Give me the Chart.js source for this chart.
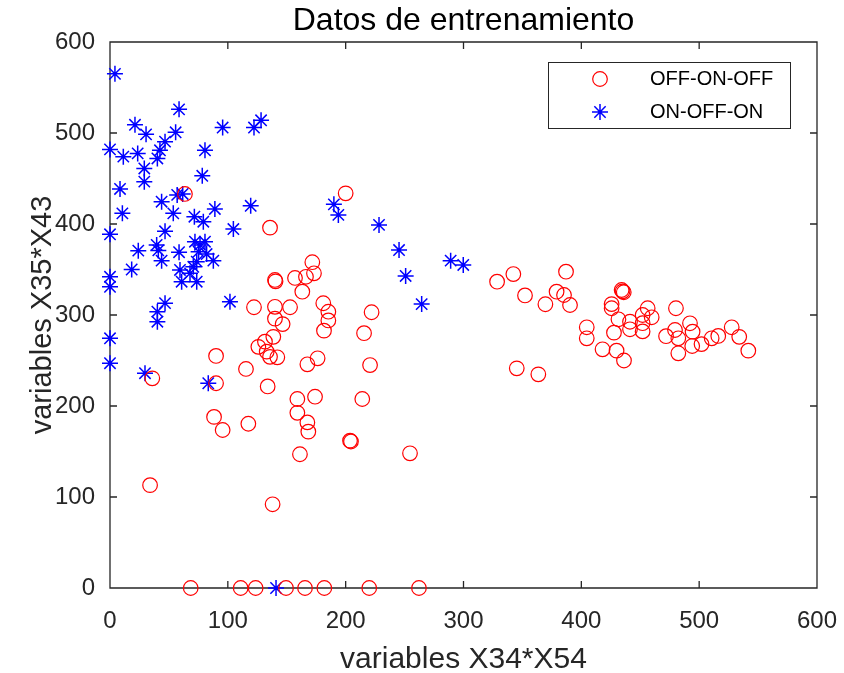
<!DOCTYPE html>
<html>
<head>
<meta charset="utf-8">
<title>Datos de entrenamiento</title>
<script src="https://cdn.jsdelivr.net/npm/chart.js@4/dist/chart.umd.min.js"></script>
<style>
  html, body { margin: 0; padding: 0; background: #ffffff; }
  #plot { display: block; }
</style>
</head>
<body>
<canvas id="plot" width="844" height="673"></canvas>
<script>
// Class OFF-ON-OFF (red circles)
const offOnOffX = [
  68.5, 110.9, 123.6, 149.4, 165.5, 181.9, 220, 262.2,
  34, 35.9, 63.6, 135.8, 138,
  90, 90, 88.3, 95.6, 115.4, 117.4, 122.2, 133.8,
  125.9, 131.5, 138.6, 133, 135.8, 142,
  140, 140.5, 140, 146.5, 140, 152.8, 157,
  159, 159, 161.2, 163.2, 166.3, 167.5, 167.5, 168.3, 171.7, 173.1, 174, 176.2, 181, 181.6, 185.3, 185.3,
  200, 203.7, 204.5, 214.1, 215.6, 222, 220.7, 254.6,
  328.5, 342.3, 352.2, 369.5, 387, 379, 385.3, 390.4, 404.6, 404.6, 418, 429.9, 436.2, 427.7,
  425.7, 425.7, 434.2, 435, 436, 431.5, 441.3, 441.3, 452, 456.3, 459.7, 452, 452,
  480.3, 471.9, 479.5, 482.3, 482.3, 492.2, 494.4, 494.1, 502, 510.6, 516.2, 527.6, 534, 541.7,
  345.2, 363.5
];
const offOnOffY = [
  0, 0, 0, 0, 0, 0, 0, 0,
  113, 230.4, 433, 396, 92,
  255, 225, 188, 173.6, 240.7, 180.5, 308.5, 221.5,
  265, 270.7, 276, 259.7, 254, 253.5,
  338.5, 337, 309, 290, 296, 308.5, 340.7,
  207.7, 192.5, 147, 325.6, 342, 245.8, 182, 171.8, 358, 345.8, 210.2, 252.4, 312.9, 282.8, 303.6, 294,
  433.7, 161.9, 161, 207.7, 280, 303, 245, 148,
  336.6, 345, 321.5, 311.8, 347.6, 325.6, 322, 311, 286.5, 274.4, 262.3, 260.8, 250, 280.6,
  312, 307.4, 327.5, 326, 325, 295.3, 292.6, 284.3, 300, 307.4, 297.5, 282, 291,
  307.4, 276.7, 283.5, 274.4, 257.9, 290.9, 281.7, 265.9, 268, 274.4, 277, 286.5, 276, 260.8,
  241.4, 234.8
];

// Class ON-OFF-ON (blue asterisks)
const onOffOnX = [
  4.2, 58.6, 21.2, 30.6, 55.7, 95.6, 122.2, 128.2,
  0, 11.3, 23.5, 46.7, 42.4, 40.2, 80.6, 29.1, 29.1, 78.3,
  8.5, 61.7, 57, 43.8, 119.4, 10.5, 53.7, 89, 71.6, 79.2, 104.7, 46.7, 0,
  24, 39.6, 41, 43.8, 58.6, 72.1, 76.4, 80.6, 75.2, 82, 87.7, 73.6, 70.7, 59.4, 60.8, 73.6, 67.9,
  18.4, 0, 0, 101.8, 46.7, 40.2, 40.2, 0, 0, 29.7, 83.4, 140.9,
  190, 193.8, 228.3, 245.3, 250.9, 264.5, 289.1, 299.8
];
const onOffOnY = [
  565, 526, 509, 498.5, 500.8, 506, 506, 514,
  482, 474, 477.6, 490.5, 481, 472, 481, 461, 446.5, 453,
  438.5, 433, 432, 424.5, 420, 411.7, 411.7, 416.5, 408, 402.5, 394.5, 392, 388.7,
  370.7, 377, 371, 359.7, 369, 380.5, 377, 380.5, 369.6, 367, 359.7, 358.6, 353, 349.5, 336.6, 336.6, 345.8,
  350, 342, 331, 314.6, 313, 303.7, 292.6, 274.4, 247, 236, 225, 0,
  421.6, 410, 399, 371.4, 342.9, 312, 359.7, 355
];

const seriesNames = ['OFF-ON-OFF', 'ON-OFF-ON'];
const axisTicks = [0, 100, 200, 300, 400, 500, 600];
const chartTitle = 'Datos de entrenamiento';

const AXIS_COLOR = '#262626';
const FONT = '"Liberation Sans", Arial, Helvetica, sans-serif';
const TICK_LEN = 7;

const toPoints = (xs, ys) => xs.map((v, i) => ({ x: v, y: ys[i] }));

// Title centred over the plotting box, box with inward tick marks on all four sides, legend panel
const axisFrame = {
  id: 'axisFrame',
  beforeDatasetsDraw(chart) {
    const { ctx, chartArea: a, scales: { x, y } } = chart;
    ctx.save();
    ctx.fillStyle = '#000000';
    ctx.font = '32px ' + FONT;
    ctx.textAlign = 'center';
    ctx.textBaseline = 'middle';
    ctx.fillText(chartTitle, (a.left + a.right) / 2, 21);

    ctx.strokeStyle = AXIS_COLOR;
    ctx.lineWidth = 1.3;
    ctx.beginPath();
    ctx.rect(a.left, a.top, a.right - a.left, a.bottom - a.top);
    axisTicks.forEach(v => {
      const px = x.getPixelForValue(v);
      ctx.moveTo(px, a.bottom); ctx.lineTo(px, a.bottom - TICK_LEN);
      ctx.moveTo(px, a.top); ctx.lineTo(px, a.top + TICK_LEN);
      const py = y.getPixelForValue(v);
      ctx.moveTo(a.left, py); ctx.lineTo(a.left + TICK_LEN, py);
      ctx.moveTo(a.right, py); ctx.lineTo(a.right - TICK_LEN, py);
    });
    ctx.stroke();
    ctx.restore();
  },
  afterDatasetsDraw(chart) {
    const { ctx } = chart;
    const box = { left: 548, top: 62, width: 242, height: 66 };
    ctx.save();
    ctx.fillStyle = '#ffffff';
    ctx.fillRect(box.left, box.top, box.width, box.height);
    ctx.strokeStyle = AXIS_COLOR;
    ctx.lineWidth = 1;
    ctx.strokeRect(box.left + 0.5, box.top + 0.5, box.width, box.height);
    ctx.font = '20px ' + FONT;
    ctx.textBaseline = 'middle';
    ctx.textAlign = 'left';
    chart.data.datasets.forEach((ds, i) => {
      const cy = box.top + 17 + i * 33;
      ctx.strokeStyle = ds.borderColor;
      ctx.fillStyle = 'rgba(0,0,0,0)';
      ctx.lineWidth = ds.borderWidth;
      Chart.helpers.drawPoint(ctx, {
        pointStyle: ds.pointStyle, radius: ds.pointRadius, borderWidth: ds.borderWidth, rotation: 0
      }, box.left + 52, cy);
      ctx.fillStyle = '#000000';
      ctx.fillText(ds.label, box.left + 102, cy);
    });
    ctx.restore();
  }
};

new Chart(document.getElementById('plot'), {
  type: 'scatter',
  data: {
    datasets: [
      {
        label: seriesNames[0],
        data: toPoints(offOnOffX, offOnOffY),
        pointStyle: 'circle',
        pointRadius: 7.3,
        borderWidth: 1.2,
        borderColor: '#ff0000',
        backgroundColor: 'rgba(0,0,0,0)',
        clip: false
      },
      {
        label: seriesNames[1],
        data: toPoints(onOffOnX, onOffOnY),
        pointStyle: 'star',
        pointRadius: 8,
        borderWidth: 1.5,
        borderColor: '#0000ff',
        backgroundColor: 'rgba(0,0,0,0)',
        clip: false
      }
    ]
  },
  options: {
    responsive: false,
    animation: false,
    devicePixelRatio: 1,
    layout: { padding: { left: 0, right: 27, top: 42, bottom: 0 } },
    plugins: {
      legend: { display: false },
      tooltip: { enabled: false },
      title: { display: false }
    },
    scales: {
      x: {
        type: 'linear',
        min: 0, max: 600,
        grid: { display: false },
        border: { display: false },
        ticks: { stepSize: 100, color: AXIS_COLOR, padding: 11, font: { family: FONT, size: 24 } },
        title: {
          display: true,
          text: 'variables X34*X54',
          color: AXIS_COLOR,
          font: { family: FONT, size: 30, lineHeight: 1 },
          padding: { top: 0, bottom: -2 }
        },
        afterFit(scale) { scale.height = 85; scale.paddingLeft = 0; scale.paddingRight = 0; }
      },
      y: {
        type: 'linear',
        min: 0, max: 600,
        grid: { display: false },
        border: { display: false },
        ticks: { stepSize: 100, color: AXIS_COLOR, padding: 7, font: { family: FONT, size: 24 } },
        title: {
          display: true,
          text: 'variables X35*X43',
          color: AXIS_COLOR,
          font: { family: FONT, size: 29, lineHeight: 1 },
          padding: { top: 28, bottom: 0 }
        },
        afterFit(scale) { scale.width = 110; scale.paddingTop = 0; scale.paddingBottom = 0; }
      }
    }
  },
  plugins: [axisFrame]
});
</script>
</body>
</html>
